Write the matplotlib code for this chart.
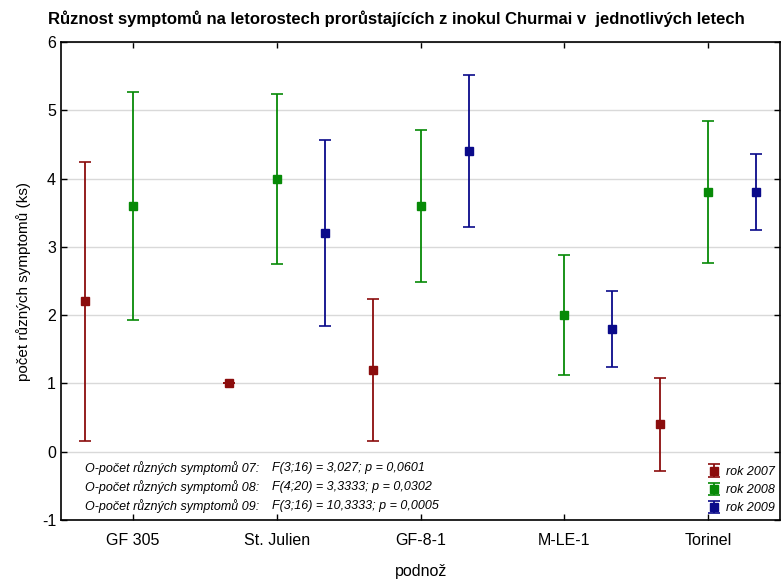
import numpy as np
import matplotlib
matplotlib.use('Agg')
from matplotlib import pyplot as plt

plt.rcParams['font.family'] = ['Liberation Sans', 'DejaVu Sans']
plt.rcParams['axes.unicode_minus'] = False

podnoz = ['GF 305', 'St. Julien', 'GF-8-1', 'M-LE-1', 'Torinel']

# means and confidence half-widths per year (nan = no data for that rootstock)
mean_2007 = [2.2, 1.0, 1.2, np.nan, 0.4]
err_2007 = [2.04, 0.0, 1.04, np.nan, 0.68]
mean_2008 = [3.6, 4.0, 3.6, 2.0, 3.8]
err_2008 = [1.67, 1.245, 1.11, 0.875, 1.04]
mean_2009 = [np.nan, 3.2, 4.4, 1.8, 3.8]
err_2009 = [np.nan, 1.36, 1.11, 0.555, 0.556]

stat_names = ['O-počet různých symptomů 07:',
              'O-počet různých symptomů 08:',
              'O-počet různých symptomů 09:']
stat_tests = ['F(3;16) = 3,027; p = 0,0601',
              'F(4;20) = 3,3333; p = 0,0302',
              'F(3;16) = 10,3333; p = 0,0005']

fig = plt.figure(figsize=(7.81, 5.8), dpi=100)
ax = fig.add_axes([0.078, 0.1034, 0.921, 0.8242])

x = np.arange(len(podnoz))
series = [
    (mean_2007, err_2007, '#8b0d0d', 'rok 2007', -1/3),
    (mean_2008, err_2008, '#078a07', 'rok 2008', 0.0),
    (mean_2009, err_2009, '#0a0a8a', 'rok 2009', 1/3),
]
for m, e, c, lab, off in series:
    ax.errorbar(x + off, m, yerr=e, fmt='s', color=c, ecolor=c,
                markersize=5.5, capsize=4, capthick=1.2, elinewidth=1.3,
                label=lab)

ax.set_xlim(-0.5, 4.5)
ax.set_ylim(-1, 6)
ax.set_yticks(range(-1, 7))
ax.set_xticks(x)
ax.set_xticklabels(podnoz)
ax.yaxis.grid(True, color='#d9d9d9', linewidth=1)
ax.set_axisbelow(True)
ax.tick_params(direction='in', top=True, right=True, labelsize=11.5,
               length=4, width=1)
ax.tick_params(axis='x', pad=9)
for s in ax.spines.values():
    s.set_linewidth(1.2)

ax.set_ylabel('počet různých symptomů (ks)', fontsize=11, labelpad=8)
ax.set_xlabel('podnož', fontsize=11.5, labelpad=12)
fig.text(0.508, 0.968, 'Různost symptomů na letorostech prorůstajících z inokul Churmai v  jednotlivých letech',
         ha='center', va='center', fontsize=12, fontweight='bold')

for i, (n, t) in enumerate(zip(stat_names, stat_tests)):
    yy = -0.243 - i * 0.277
    ax.text(-0.33, yy, n, fontsize=9, style='italic', va='center')
    ax.text(0.965, yy, t, fontsize=9, style='italic', va='center')

ax.legend(loc='lower right', frameon=False,
          prop={'style': 'italic', 'size': 9}, handletextpad=0.35,
          labelspacing=0.5, borderaxespad=0.05, handlelength=1.2)

fig.savefig('out.png', dpi=100)
